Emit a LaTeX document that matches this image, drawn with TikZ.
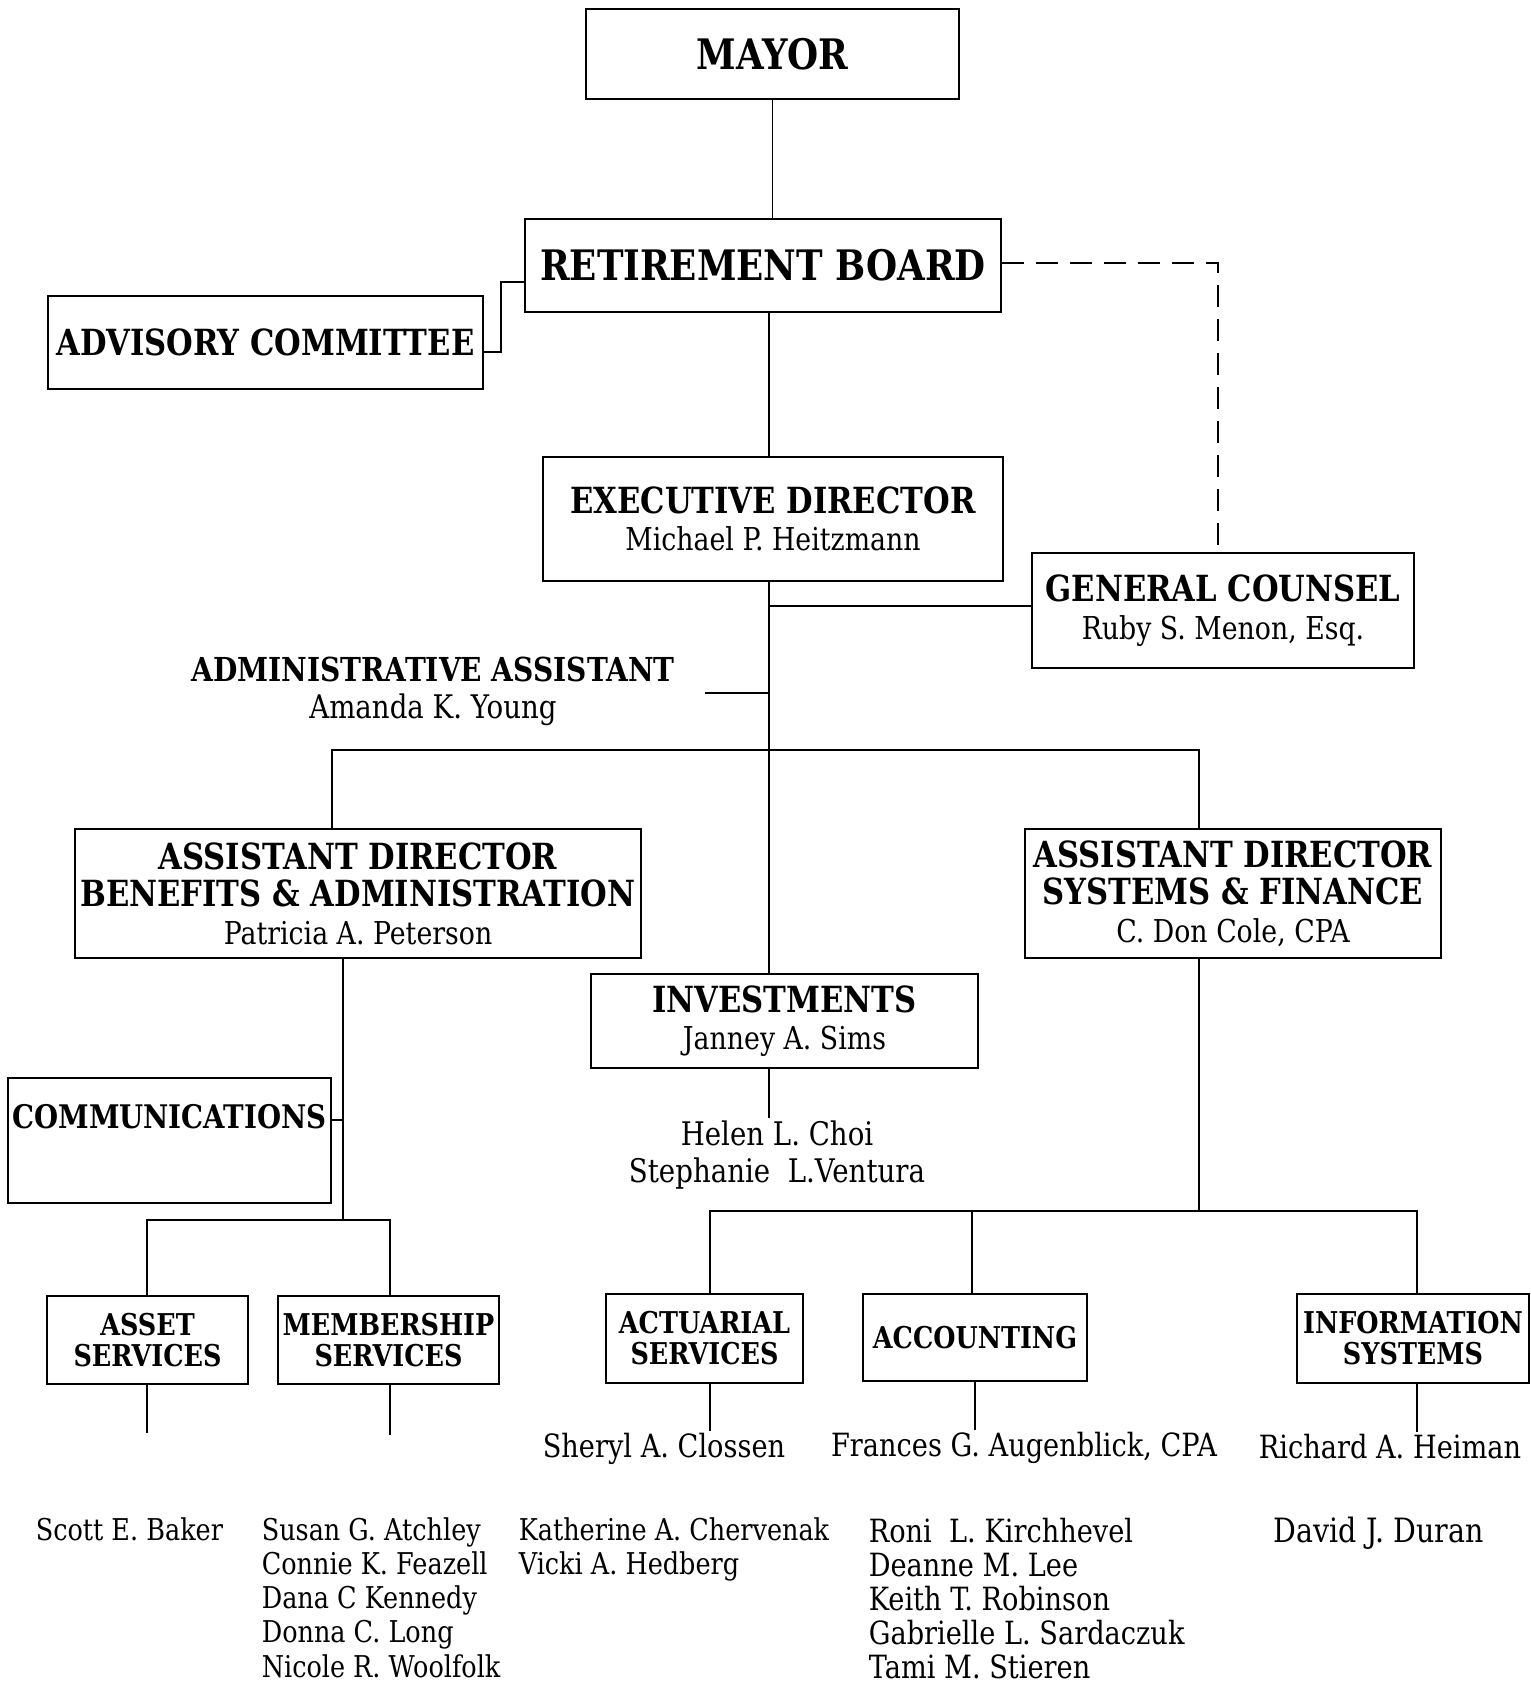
\documentclass[tikz,border=0pt]{standalone}
\usepackage{fontspec}
\setmainfont{DejaVu Serif}[FakeStretch=0.85]
\newcommand\pn[1]{{\fontsize{31.5}{37.6}\selectfont\mdseries #1}}
\begin{document}
\begin{tikzpicture}[x=1pt,y=-1pt,line width=1.6pt,
  box/.style={draw, line width=1.8pt, inner sep=0pt, align=center},
  big/.style={font=\fontsize{42}{44}\selectfont\bfseries},
  ttl/.style={font=\fontsize{36}{37.6}\selectfont\bfseries},
  sml/.style={font=\fontsize{30}{31}\selectfont\bfseries},
  nm/.style={font=\fontsize{32}{36.5}\selectfont, inner sep=2pt},
  low/.style={font=\fontsize{30}{34}\selectfont, inner sep=0pt, text depth=0pt, anchor=base west},
  dashline/.style={dash pattern=on 22pt off 12pt}]
\fill[white] (0,0) rectangle (1531,1684);
\useasboundingbox (0,0) rectangle (1531,1684);

% boxes
\node[box,big,minimum width=373,minimum height=90] (mayor) at (772.5,54) {MAYOR};
\node[box,big,minimum width=476,minimum height=93] (board) at (763,265.5) {RETIREMENT BOARD};
\node[box,ttl,minimum width=435,minimum height=93] (advisory) at (265.5,342.5) {ADVISORY COMMITTEE};
\node[box,ttl,minimum width=460,minimum height=124] (exec) at (773,519) {EXECUTIVE DIRECTOR\\ \pn{Michael P. Heitzmann}};
\node[box,ttl,minimum width=382,minimum height=115] (counsel) at (1223,610.5) {GENERAL COUNSEL\\ \pn{Ruby S. Menon, Esq.}};
\node[font=\fontsize{33}{37.6}\selectfont\bfseries,align=center,inner sep=0pt] (admin) at (433,691.5) {ADMINISTRATIVE ASSISTANT\\ {\fontsize{32.5}{37.6}\selectfont\mdseries Amanda K. Young}};
\node[box,ttl,minimum width=566,minimum height=129] (benefits) at (358,893.5) {ASSISTANT DIRECTOR\\BENEFITS \& ADMINISTRATION\\ \pn{Patricia A. Peterson}};
\node[box,ttl,minimum width=416,minimum height=129] (systems) at (1233,893.5) {ASSISTANT DIRECTOR\\SYSTEMS \& FINANCE\\ \pn{C. Don Cole, CPA}};
\node[box,ttl,minimum width=387,minimum height=94] (invest) at (784.5,1021) {INVESTMENTS\\ \pn{Janney A. Sims}};
\node[nm,font=\fontsize{32.5}{37}\selectfont,align=center] (investnames) at (777,1155.5) {Helen L. Choi\\Stephanie~~L.Ventura};
\node[box,minimum width=323,minimum height=125] (comm) at (169.5,1140.5) {};
\node[font=\fontsize{32.5}{36}\selectfont\bfseries,inner sep=0pt] (commlbl) at (169.5,1117) {COMMUNICATIONS};
\node[box,sml,minimum width=201,minimum height=88] (asset) at (147.5,1340) {ASSET\\SERVICES};
\node[box,sml,minimum width=221,minimum height=88] (member) at (388.5,1340) {MEMBERSHIP\\SERVICES};
\node[box,sml,minimum width=197,minimum height=89] (actuarial) at (704.5,1338.5) {ACTUARIAL\\SERVICES};
\node[box,sml,minimum width=224,minimum height=87] (accounting) at (975,1337.5) {ACCOUNTING};
\node[box,sml,minimum width=232,minimum height=89] (infosys) at (1413,1338.5) {INFORMATION\\SYSTEMS};

% names under boxes
\node[nm] (sheryl) at (664,1449) {Sheryl A. Clossen};
\node[nm] (frances) at (1024,1448) {Frances G. Augenblick, CPA};
\node[nm] (richard) at (1390,1447) {Richard A. Heiman};

\node[low] (scott) at (35,1540) {Scott E. Baker};
\foreach \t [count=\i] in {Susan G. Atchley, Connie K. Feazell, Dana C Kennedy, Donna C. Long, Nicole R. Woolfolk}
  \node[low] (mem\i) at (261,{1540+34.3*(\i-1)}) {\t};
\foreach \t [count=\i] in {Katherine A. Chervenak, Vicki A. Hedberg}
  \node[low] (act\i) at (518,{1540+34.5*(\i-1)}) {\t};
\foreach \t [count=\i] in {Roni~~L. Kirchhevel, Deanne M. Lee, Keith T. Robinson, Gabrielle L. Sardaczuk, Tami M. Stieren}
  \node[low,font=\fontsize{32}{34}\selectfont] (acc\i) at (868,{1542+34.2*(\i-1)}) {\t};
\node[low,font=\fontsize{33.5}{34}\selectfont] (david) at (1273,1542) {David J. Duran};

% connectors
\coordinate (tx) at (769,0);
\draw (mayor.south) -- (mayor.south |- board.north);
\coordinate (adv1) at (501,352);
\coordinate (adv2) at (501,282);
\draw (advisory.east |- adv1) -- (adv1) -- (adv2) -- (board.west |- adv2);
\coordinate (dcx) at (1218,0);
\coordinate (dcy) at (0,263);
\draw[dashline] (board.east |- dcy) -| (counsel.north -| dcx);
\draw (board.south -| tx) -- (exec.north -| tx);
\draw (exec.south -| tx) -- (invest.north -| tx);
\coordinate (gcy) at (0,606);
\draw (counsel.west |- gcy) -- (tx |- gcy);
\coordinate (adm) at (705,693);
\draw (adm) -- (adm -| tx);
\coordinate (barL) at (332,750);
\coordinate (barR) at (1199,750);
\draw (benefits.north -| barL) -- (barL) -- (barR) -- (systems.north -| barR);
\draw (invest.south -| tx) -- (investnames.north -| tx);

\coordinate (bj) at (343,1220);
\coordinate (cj) at (343,1120);
\draw (benefits.south -| bj) -- (bj);
\draw (comm.east |- cj) -- (cj);
\coordinate (bL) at (147,1220);
\coordinate (bR) at (390,1220);
\draw (asset.north -| bL) -- (bL) -- (bR) -- (member.north -| bR);
\coordinate (aend) at (147,1433);
\coordinate (mend) at (390,1435);
\draw (asset.south -| aend) -- (aend);
\draw (member.south -| mend) -- (mend);

\coordinate (sj) at (1199,1211);
\draw (systems.south -| sj) -- (sj);
\coordinate (sL) at (710,1211);
\coordinate (sM) at (972,1211);
\coordinate (sR) at (1417,1211);
\draw (actuarial.north -| sL) -- (sL) -- (sR) -- (infosys.north -| sR);
\draw (sM) -- (accounting.north -| sM);
\draw (actuarial.south -| sL) -- (sheryl.north -| sL);
\draw (accounting.south) -- (accounting.south |- frances.north);
\draw (infosys.south -| sR) -- (richard.north -| sR);
\end{tikzpicture}
\end{document}
